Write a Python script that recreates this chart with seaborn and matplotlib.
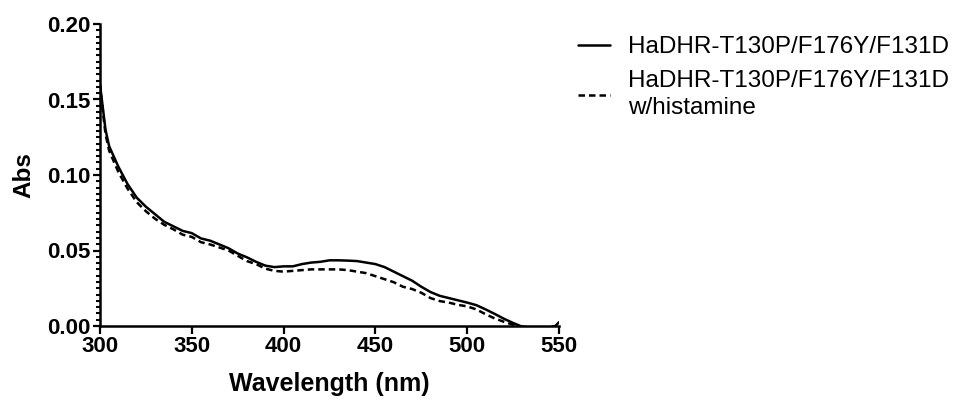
import numpy as np
import pandas as pd
import matplotlib
matplotlib.use("Agg")
import matplotlib.pyplot as plt
from matplotlib.ticker import MultipleLocator, AutoMinorLocator
import seaborn as sns

sns.set_style("ticks")
plt.rcParams['font.family'] = ['Liberation Sans', 'DejaVu Sans']
plt.rcParams['text.color'] = 'black'
plt.rcParams['axes.labelcolor'] = 'black'

wavelength = [300, 301, 303, 305, 310, 315, 320, 325, 330, 335, 340, 345, 350, 355, 360,
              365, 370, 375, 380, 385, 390, 395, 400, 405, 410, 415, 420, 425, 430, 435,
              440, 445, 450, 455, 460, 465, 470, 475, 480, 485, 490, 495, 500, 505, 510,
              515, 520, 525, 530, 535, 540, 545, 548, 550]
abs_enzyme = [0.160, 0.150, 0.130, 0.119, 0.1055, 0.094, 0.085, 0.079, 0.074, 0.069, 0.066,
              0.063, 0.0615, 0.058, 0.0565, 0.054, 0.0515, 0.048, 0.0455, 0.0425, 0.040,
              0.039, 0.0395, 0.0395, 0.041, 0.042, 0.0425, 0.0435, 0.0435, 0.0433, 0.043,
              0.042, 0.041, 0.039, 0.036, 0.033, 0.030, 0.026, 0.0225, 0.020, 0.0185, 0.017,
              0.0155, 0.0138, 0.011, 0.008, 0.0048, 0.002, -0.0005, -0.001, -0.001, -0.001,
              0.0, 0.0025]
abs_histamine = [0.160, 0.148, 0.127, 0.116, 0.102, 0.091, 0.082, 0.076, 0.071, 0.067, 0.064,
                 0.0605, 0.059, 0.0555, 0.054, 0.052, 0.050, 0.0465, 0.043, 0.041, 0.038,
                 0.0365, 0.036, 0.0365, 0.037, 0.0375, 0.0375, 0.0375, 0.0375, 0.037, 0.036,
                 0.035, 0.033, 0.031, 0.029, 0.026, 0.0245, 0.022, 0.0185, 0.0165, 0.0155,
                 0.014, 0.013, 0.011, 0.0078, 0.005, 0.0028, 0.0008, -0.0005, -0.001, -0.001,
                 -0.001, 0.0, 0.001]
labels = ["HaDHR-T130P/F176Y/F131D", "HaDHR-T130P/F176Y/F131D\nw/histamine"]

df = pd.DataFrame({
    "Wavelength": wavelength * 2,
    "Abs": abs_enzyme + abs_histamine,
    "Sample": [labels[0]] * len(wavelength) + [labels[1]] * len(wavelength),
})

fig = plt.figure(figsize=(9.63, 4.04), dpi=100)
ax = fig.add_axes([100 / 963, 1 - 326 / 404, 459 / 963, 302 / 404])

sns.lineplot(data=df, x="Wavelength", y="Abs", style="Sample", color="black",
             dashes={labels[0]: "", labels[1]: (2.6, 1.6)}, linewidth=1.8,
             legend=False, ax=ax, sort=False)

ax.set_xlim(300, 550)
ax.set_ylim(0, 0.20)
ax.xaxis.set_major_locator(MultipleLocator(50))
ax.yaxis.set_major_locator(MultipleLocator(0.05))
ax.yaxis.set_minor_locator(AutoMinorLocator(12))
ax.yaxis.set_major_formatter(matplotlib.ticker.FormatStrFormatter('%.2f'))

for s in ["top", "right"]:
    ax.spines[s].set_visible(False)
for s in ["left", "bottom"]:
    ax.spines[s].set_linewidth(1.8)
    ax.spines[s].set_color("black")

ax.tick_params(axis="both", which="major", width=1.6, color="black", labelsize=16,
               labelcolor="black")
ax.tick_params(axis="x", which="major", length=6, pad=1)
ax.tick_params(axis="y", which="major", length=5, pad=2)
ax.tick_params(axis="y", which="minor", length=3, width=1.5, color="black")
for lab in ax.get_xticklabels() + ax.get_yticklabels():
    lab.set_fontweight("bold")

ax.set_xlabel("Wavelength (nm)", fontsize=18, fontweight="bold", labelpad=11, color="black")
ax.set_ylabel("Abs", fontsize=17.5, fontweight="bold", labelpad=8, color="black")

handles = ax.get_lines()[:2]
leg = fig.legend(handles, labels, loc="upper left", bbox_to_anchor=(578 / 963, 1 - 36 / 404),
                 frameon=False, fontsize=17.5, handlelength=1.3, handletextpad=0.75,
                 borderpad=0, borderaxespad=0, labelspacing=0.5)
for t in leg.get_texts():
    t.set_linespacing(1.3)
    t.set_color("black")

fig.savefig("out.png", dpi=100)
